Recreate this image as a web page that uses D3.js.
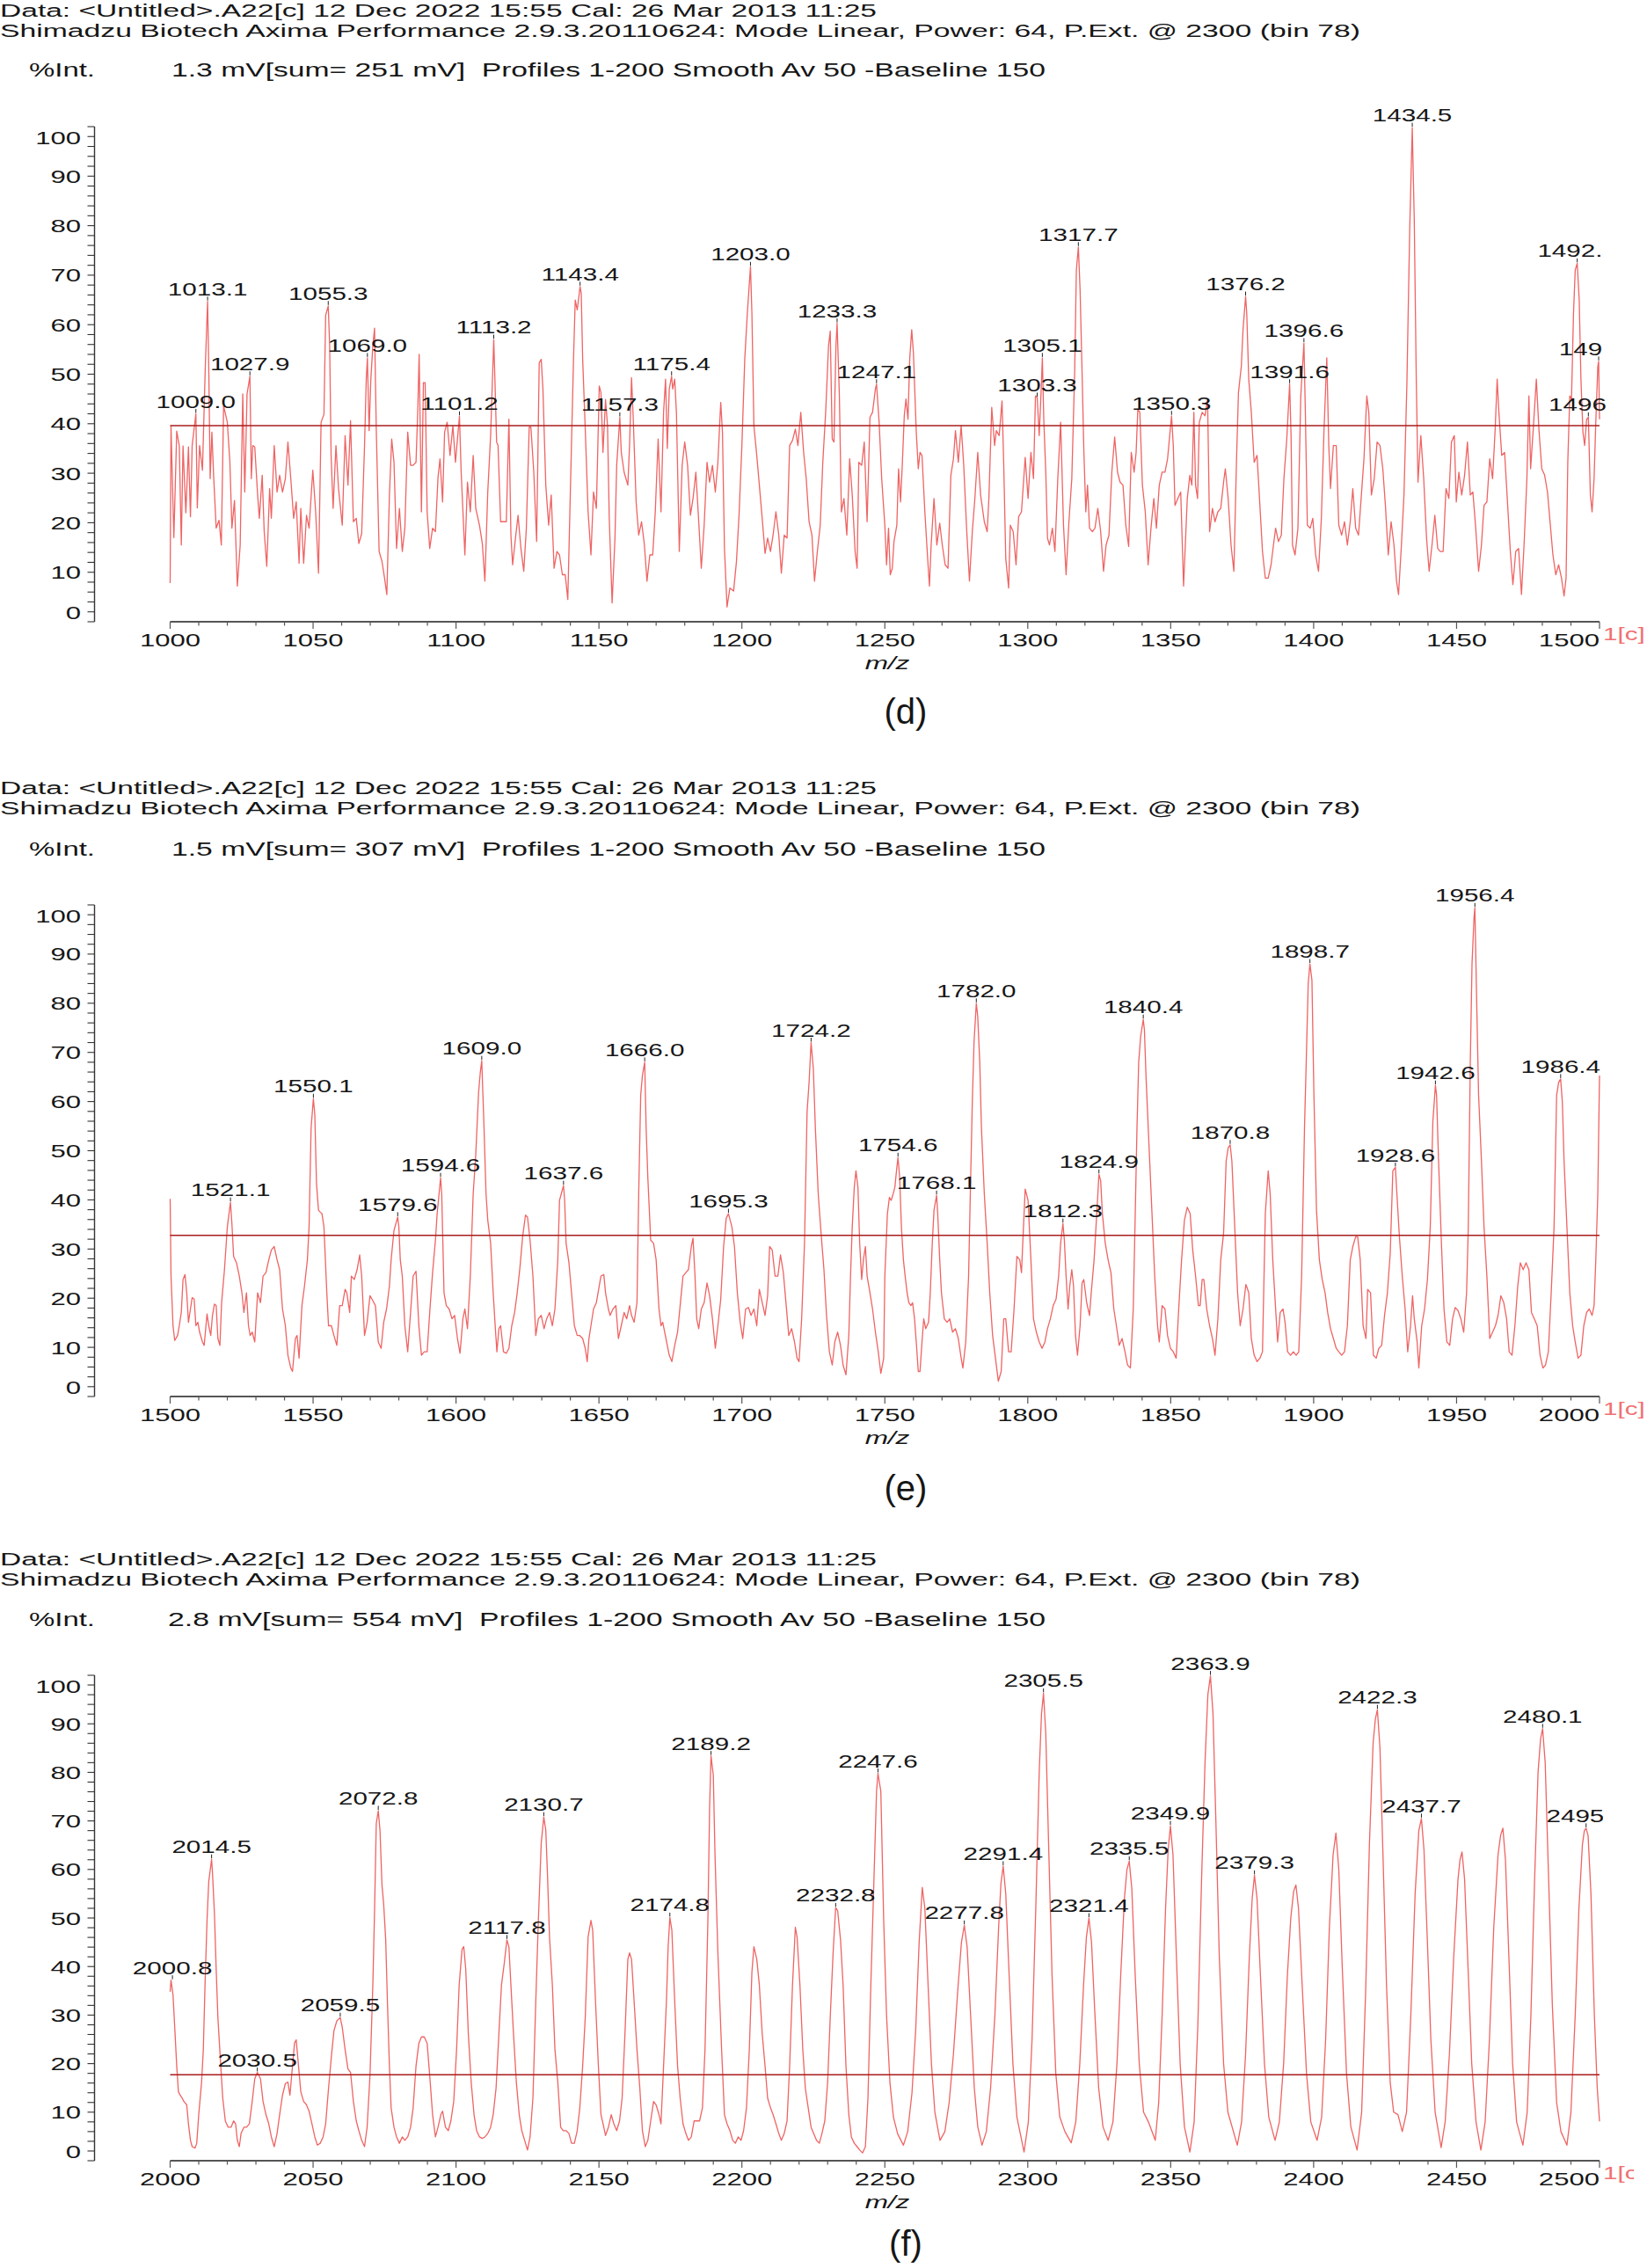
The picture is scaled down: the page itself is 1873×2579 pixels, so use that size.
<!DOCTYPE html>
<html>
<head>
<meta charset="utf-8">
<script src="https://d3js.org/d3.v7.min.js"></script>
<style>
  body { margin: 0; background: #fff; }
  svg { display: block; font-family: "Liberation Sans", Arial, sans-serif; }
</style>
</head>
<body>
<div id="chart"></div>
<script>
// header texts
const dataLine = "Data: <Untitled>.A22[c] 12 Dec 2022 15:55 Cal: 26 Mar 2013 11:25";
const instrumentLine = "Shimadzu Biotech Axima Performance 2.9.3.20110624: Mode Linear, Power: 64, P.Ext. @ 2300 (bin 78)";
const infoD = "1.3 mV[sum= 251 mV]  Profiles 1-200 Smooth Av 50 -Baseline 150";
const infoE = "1.5 mV[sum= 307 mV]  Profiles 1-200 Smooth Av 50 -Baseline 150";
const infoF = "2.8 mV[sum= 554 mV]  Profiles 1-200 Smooth Av 50 -Baseline 150";
const panelTags = ["(d)", "(e)", "(f)"];

// axes
const yTickLabels = [0, 10, 20, 30, 40, 50, 60, 70, 80, 90, 100];
const xTickLabelsD = [1000, 1050, 1100, 1150, 1200, 1250, 1300, 1350, 1400, 1450, 1500];
const xTickLabelsE = [1500, 1550, 1600, 1650, 1700, 1750, 1800, 1850, 1900, 1950, 2000];
const xTickLabelsF = [2000, 2050, 2100, 2150, 2200, 2250, 2300, 2350, 2400, 2450, 2500];

// threshold (red horizontal line) per panel, %Int
const thresholdD = 39.6, thresholdE = 32.8, thresholdF = 17.7;

// spectra: [m/z, %Int]
const spectrumD = [[1000.0,7.8],[1000.3,39.5],[1001.3,17],[1002.3,38.5],[1003.2,35.5],[1003.9,15.5],[1004.5,35.5],[1005.5,22],[1006.4,35.3],[1007.1,21.2],[1007.7,35.6],[1009.0,42],[1009.5,23],[1010.3,35.6],[1011.3,30.6],[1012.3,51.6],[1013.1,64.7],[1013.5,51.6],[1014.0,28.9],[1014.6,38.3],[1015.2,29.6],[1016.1,18.9],[1017.1,20.5],[1017.9,15.5],[1018.7,43.6],[1020.0,40.3],[1020.9,32.2],[1021.6,18.9],[1022.5,24.5],[1023.5,7.2],[1024.5,15.5],[1025.4,46],[1026.1,26.2],[1026.9,46],[1027.9,49.6],[1028.4,28.9],[1028.9,35.6],[1029.6,35.3],[1030.6,25.6],[1031.2,20.9],[1032.2,29.6],[1032.9,18.2],[1033.8,11.2],[1034.8,26.9],[1035.4,20.9],[1036.4,35.6],[1037.4,26.2],[1038.3,29.6],[1039.3,26.2],[1040.3,28.9],[1041.2,36.3],[1042.2,28.9],[1043.2,20.9],[1044.1,24.2],[1045.1,11.8],[1045.7,22.9],[1046.7,11.8],[1047.7,21.5],[1048.6,18.9],[1049.9,30.6],[1050.9,22.2],[1051.9,9.8],[1052.8,40.3],[1053.8,41.9],[1054.4,61.9],[1055.3,63.8],[1055.8,55.7],[1056.3,33.6],[1057.0,22.9],[1058.0,35.6],[1058.9,26.9],[1060.2,19.5],[1061.2,37.6],[1062.2,27.6],[1063.1,40.6],[1064.1,20.2],[1065.1,20.9],[1066.0,15.8],[1067.0,17.8],[1068.0,35.6],[1068.6,49],[1069.0,53.3],[1069.6,38.6],[1070.2,49],[1070.9,55.7],[1071.5,59.3],[1072.1,39],[1073.1,14.2],[1074.1,12.2],[1075.0,8.8],[1075.8,5.5],[1076.7,25.6],[1077.5,36.9],[1078.3,32.2],[1079.2,14.8],[1080.2,22.9],[1081.2,14.2],[1082.1,18.9],[1083.1,38.3],[1084.1,31.6],[1085.0,31.6],[1086.0,32.2],[1086.6,42.3],[1087.1,54],[1087.9,22.2],[1088.6,48.3],[1089.2,48.3],[1089.9,22.2],[1090.8,14.8],[1091.8,18.9],[1092.8,18.2],[1093.7,29.2],[1094.4,32.9],[1095.3,24.2],[1096.0,38.3],[1096.9,40.3],[1097.9,33.6],[1098.9,39.6],[1099.8,32.2],[1101.2,41.5],[1101.8,30.2],[1103.1,13.5],[1104.0,28.2],[1105.0,22.2],[1106.0,33.6],[1106.9,22.9],[1108.2,19.5],[1109.2,15.8],[1110.1,8.2],[1111.1,26.2],[1112.1,37.6],[1113.2,57],[1113.6,49],[1114.2,36.3],[1114.7,35.6],[1115.6,20.2],[1116.6,20.2],[1117.6,20.2],[1118.5,40.9],[1119.2,17.5],[1119.8,11.5],[1120.8,16.9],[1121.7,21.5],[1122.7,14.8],[1123.7,10.2],[1124.6,18.9],[1125.6,39.3],[1126.2,39.3],[1127.2,30.2],[1128.2,16.2],[1129.1,52.3],[1129.8,53],[1130.4,47],[1131.4,27.6],[1132.4,19.5],[1133.3,25.6],[1134.3,10.8],[1135.3,14.2],[1136.2,13.5],[1137.2,9.5],[1138.2,9.5],[1139.1,4.5],[1140.1,28.9],[1141.1,53],[1141.7,65],[1142.4,63],[1143.4,67.7],[1143.8,66.3],[1144.3,53],[1145.2,39],[1146.2,22.2],[1147.2,13.5],[1148.1,26.2],[1149.1,22.9],[1150.1,47.6],[1150.7,46.3],[1151.4,34.2],[1152.3,44.9],[1153.0,39.6],[1153.6,20.9],[1154.6,3.8],[1155.6,16.9],[1156.2,31.6],[1157.3,41.3],[1157.8,34.2],[1158.8,30.2],[1160.1,27.6],[1160.7,35.6],[1161.4,49.3],[1162.0,40.9],[1163.0,24.2],[1163.9,17.5],[1164.9,20.2],[1165.9,15.5],[1166.8,8.2],[1167.8,13.5],[1168.8,13.5],[1169.7,22.2],[1170.7,36.9],[1171.7,22.2],[1172.6,42.3],[1173.3,49],[1173.9,35],[1174.6,47],[1175.4,49.6],[1175.8,47],[1176.5,49],[1177.1,42.3],[1178.1,14.2],[1179.1,31.6],[1180.0,36.3],[1181.0,31.6],[1182.0,21.5],[1182.9,24.9],[1183.9,30.2],[1184.9,20.2],[1185.8,10.8],[1186.8,19.5],[1187.8,32.2],[1188.7,28.2],[1189.7,31.6],[1190.7,26.2],[1191.6,32.2],[1192.6,44.3],[1193.2,38.3],[1193.9,14.8],[1194.8,3],[1195.8,6.8],[1197.1,6.2],[1198.1,12.2],[1199.0,21.5],[1200.0,35.6],[1201.0,53],[1201.9,62.3],[1203.0,71.7],[1203.5,62.3],[1204.2,39.6],[1205.2,33.6],[1206.1,27.6],[1207.1,20.9],[1208.1,13.8],[1209.0,16.9],[1210.0,14.2],[1210.9,17.5],[1211.9,22.2],[1212.9,17.5],[1213.8,9.8],[1214.8,17.5],[1215.8,16.9],[1216.7,35.6],[1217.7,36.6],[1218.7,38.9],[1219.6,35.6],[1220.6,42.3],[1221.6,34.2],[1222.5,28.9],[1223.5,20.2],[1224.5,17.5],[1225.4,8.2],[1226.4,14.2],[1227.4,19.5],[1228.3,32.2],[1229.3,42.3],[1230.3,55.7],[1230.9,58.7],[1231.6,36.9],[1232.2,36.3],[1232.9,55.7],[1233.3,60.3],[1234.1,45.6],[1234.8,22.2],[1235.7,24.9],[1236.7,17.5],[1237.7,32.9],[1238.6,25.6],[1239.6,14.2],[1240.3,10.8],[1240.9,32.2],[1241.9,31.6],[1242.8,36.3],[1243.8,20.2],[1244.8,41.3],[1245.7,42.3],[1246.7,47],[1247.1,48],[1248.0,40.3],[1248.9,28.9],[1250.0,19.5],[1250.6,11.5],[1251.3,18.9],[1251.9,9.5],[1252.6,10.8],[1253.2,16.2],[1254.2,19.5],[1254.8,30.9],[1255.5,24.2],[1256.1,31.6],[1256.8,41.6],[1257.4,45],[1258.1,40.9],[1258.7,53],[1259.4,59],[1260.0,54.3],[1261.0,38.3],[1261.7,30.9],[1262.3,34.2],[1263.0,33.6],[1264.0,22.2],[1264.9,13.5],[1265.6,7.2],[1266.2,15.5],[1267.2,24.9],[1268.2,15.5],[1269.2,19.9],[1270.1,15.5],[1271.1,11.5],[1272.1,10.8],[1273.1,29.6],[1274.0,32.9],[1274.7,38.6],[1275.7,32.2],[1276.7,39.6],[1277.6,31.6],[1278.6,18.9],[1279.6,8.2],[1280.6,18.2],[1281.5,24.9],[1282.5,34.2],[1283.5,25.6],[1284.8,20.2],[1285.8,18.2],[1286.4,24.9],[1287.4,43.3],[1288.4,35.6],[1289.0,38.6],[1290.0,37.6],[1291.0,44.6],[1291.6,31.6],[1292.3,12.8],[1293.3,6.8],[1293.9,19.5],[1294.9,18.2],[1295.9,11.5],[1296.8,21.2],[1297.8,22.2],[1299.1,33.2],[1300.1,24.9],[1301.1,34.2],[1302.0,28.9],[1302.7,45.6],[1303.3,45.3],[1304.0,37.6],[1304.7,47],[1305.1,53.3],[1305.6,40.9],[1306.3,30.2],[1306.9,16.9],[1307.6,15.5],[1308.6,18.9],[1309.5,14.2],[1310.5,28.9],[1311.5,40.3],[1312.5,19.5],[1313.4,9.5],[1314.4,20.2],[1315.4,28.9],[1316.4,50.3],[1317.0,71],[1317.7,75.7],[1318.3,67],[1319.0,50.3],[1319.6,34.9],[1320.3,22.2],[1320.9,27.6],[1321.6,18.9],[1322.6,18.2],[1323.5,18.9],[1324.5,22.9],[1325.5,18.2],[1326.5,10.2],[1327.4,15.5],[1328.4,17.5],[1329.4,30.2],[1330.4,37.3],[1331.4,30.2],[1332.3,28.2],[1333.3,27.6],[1334.3,19.5],[1335.3,15.2],[1336.2,34.2],[1337.2,30.2],[1337.9,34.2],[1338.5,42.9],[1339.2,42.3],[1340.1,27.6],[1341.1,22.2],[1342.1,11.5],[1343.1,18.9],[1344.1,24.9],[1345.0,18.9],[1346.0,27.6],[1347.0,30.2],[1348.0,30.2],[1348.9,32.9],[1350.3,41.6],[1350.9,35.6],[1351.5,23.5],[1352.5,24.9],[1353.5,26.2],[1354.5,7.2],[1355.8,24.9],[1356.7,29.6],[1357.4,27.6],[1358.1,42.3],[1358.7,27.6],[1359.4,24.9],[1360.0,40.3],[1361.0,42.3],[1362.0,41.6],[1362.9,45],[1363.6,18.2],[1364.6,22.9],[1365.5,20.2],[1366.5,22.2],[1367.5,22.9],[1368.5,28.2],[1369.1,30.9],[1370.1,24.9],[1371.1,15.5],[1372.1,10.2],[1373.0,32.2],[1373.7,46.3],[1374.7,51.6],[1375.3,59],[1376.2,65.7],[1376.6,62.3],[1377.3,49],[1378.2,42.3],[1379.2,32.2],[1380.2,33.6],[1381.2,23.5],[1382.1,14.2],[1383.1,8.8],[1384.1,8.8],[1385.1,11.5],[1386.1,16.2],[1386.7,18.9],[1387.7,16.2],[1388.7,17.5],[1389.6,28.9],[1390.6,36.9],[1391.6,48],[1392.1,37.6],[1392.6,15.5],[1393.5,13.5],[1394.5,18.9],[1395.5,45.6],[1396.6,56.3],[1397.1,42.3],[1397.8,19.5],[1398.8,18.9],[1399.7,20.9],[1400.7,13.5],[1401.7,10.2],[1402.7,20.9],[1403.6,38.3],[1404.6,53.3],[1405.3,35.6],[1405.9,26.9],[1406.9,35.6],[1407.9,35.6],[1408.8,19.5],[1409.8,17.5],[1410.8,20.2],[1411.8,15.5],[1412.8,20.2],[1413.7,26.9],[1414.7,18.9],[1415.7,17.5],[1416.7,25.6],[1417.6,32.9],[1418.6,45.6],[1419.3,42.3],[1420.2,25.6],[1421.2,28.9],[1422.2,36.3],[1423.2,35.6],[1424.2,30.9],[1425.1,23.5],[1426.1,13.5],[1427.1,20.2],[1428.1,15.5],[1429.0,8.2],[1429.7,5.5],[1430.7,15.5],[1431.6,25.6],[1432.6,47.6],[1433.6,79.1],[1434.5,99.8],[1435.2,81.1],[1435.9,49],[1436.5,28.2],[1437.5,37.6],[1438.5,28.9],[1439.5,16.9],[1440.4,10.2],[1441.4,15.5],[1442.4,21.5],[1443.4,14.8],[1444.3,14.2],[1445.3,14.2],[1446.3,26.9],[1447.3,24.9],[1448.2,36.3],[1449.2,37.6],[1449.9,24.2],[1450.8,30.2],[1451.8,25.6],[1452.8,29.6],[1453.8,36.3],[1454.8,25.6],[1455.7,26.2],[1456.7,18.9],[1457.7,10.2],[1458.7,15.5],[1459.6,23.5],[1460.6,24.2],[1461.6,32.9],[1462.6,28.9],[1463.5,38.9],[1464.2,49],[1464.8,42.3],[1465.8,33.6],[1466.8,34.2],[1467.8,24.2],[1468.8,14.2],[1469.7,7.5],[1470.7,14.2],[1471.7,14.8],[1472.7,5.5],[1473.6,15.5],[1474.6,28.9],[1475.3,45.6],[1475.9,30.9],[1476.9,39.6],[1477.9,49],[1478.8,38.9],[1479.8,30.9],[1480.8,29.6],[1481.8,26.2],[1482.8,19.5],[1483.7,13.5],[1484.7,9.5],[1485.7,11.5],[1486.7,8.8],[1487.6,5.2],[1488.3,8.8],[1488.9,32.2],[1489.6,45.6],[1490.2,45],[1490.9,62.3],[1491.5,71],[1492.2,72.4],[1492.9,65],[1493.5,49],[1494.2,38.3],[1494.8,35.6],[1495.5,40.9],[1496.1,41.3],[1496.8,25.6],[1497.4,22.2],[1498.1,28.9],[1498.7,40.3],[1499.4,51.6],[1499.7,52.6],[1500.0,40.9]];

const spectrumE = [[1500.0,40.2],[1500.3,24.5],[1501.0,14.4],[1501.6,11.4],[1502.6,12.4],[1503.2,14.4],[1503.9,17.1],[1504.5,23.8],[1505.2,24.8],[1505.8,21.1],[1506.4,15.1],[1507.1,17.8],[1507.7,20.1],[1508.4,19.8],[1509.0,14.4],[1509.7,15.1],[1510.3,13.1],[1511.3,11.1],[1511.9,10.4],[1512.9,16.8],[1513.5,14.4],[1514.2,12.4],[1514.8,16.5],[1515.5,18.8],[1516.1,18.5],[1516.7,11.8],[1517.4,10.4],[1518.0,19.1],[1519.0,25.8],[1520.0,34.5],[1521.1,39.5],[1521.6,35.2],[1522.2,28.5],[1523.2,27.2],[1524.2,24.5],[1525.1,21.1],[1525.8,17.1],[1526.7,21.1],[1527.4,14.4],[1528.0,12.4],[1528.7,13.1],[1529.6,11.1],[1530.6,21.1],[1531.6,19.1],[1532.5,24.5],[1533.5,25.2],[1534.5,27.8],[1535.4,29.8],[1536.4,30.5],[1537.4,27.8],[1538.3,25.8],[1539.3,17.8],[1540.3,14.4],[1541.2,8.4],[1542.2,5.8],[1542.8,5.1],[1543.8,11.8],[1544.4,12.4],[1545.1,7.8],[1546.1,18.5],[1547.0,22.5],[1548.0,27.8],[1548.6,34.5],[1549.3,54.6],[1550.1,60.6],[1550.6,57.3],[1551.2,43.2],[1551.9,37.9],[1552.5,37.5],[1553.1,37.2],[1553.8,34.5],[1554.8,21.1],[1555.4,14.4],[1556.4,14.4],[1557.3,12.4],[1558.3,10.4],[1559.3,18.5],[1560.2,18.5],[1561.2,21.8],[1561.8,21.1],[1562.8,17.1],[1563.4,24.5],[1564.4,23.8],[1565.4,25.8],[1566.3,28.8],[1567.0,24.5],[1568.0,12.4],[1568.9,15.1],[1569.9,20.5],[1570.9,19.5],[1571.8,18.5],[1572.8,11.1],[1573.8,9.8],[1574.7,15.1],[1575.7,17.8],[1576.7,22.5],[1577.3,27.8],[1578.3,33.8],[1579.6,36.5],[1580.0,34.5],[1580.5,27.8],[1581.2,24.5],[1582.1,14.4],[1583.1,9.1],[1584.1,17.1],[1585.0,24.5],[1586.0,25.5],[1587.0,14.4],[1587.9,8.4],[1588.9,9.1],[1589.9,9.1],[1590.8,17.1],[1591.8,25.2],[1592.8,31.8],[1593.4,37.2],[1594.6,44.5],[1595.0,41.2],[1595.8,21.1],[1596.6,18.5],[1597.6,17.8],[1598.6,15.8],[1599.5,16.5],[1600.5,11.8],[1601.4,8.8],[1602.4,15.8],[1603.1,17.8],[1604.0,13.8],[1605.0,24.5],[1606.0,41.2],[1606.9,49.2],[1607.9,61.9],[1608.5,66],[1609.0,68.3],[1609.8,54.6],[1610.5,41.2],[1611.1,35.9],[1612.1,31.2],[1613.0,21.1],[1613.7,14.4],[1614.3,9.1],[1615.0,13.8],[1615.6,14.4],[1616.6,9.1],[1617.6,8.8],[1618.5,9.8],[1619.5,14.4],[1620.5,17.1],[1621.4,21.1],[1622.4,26.5],[1623.3,32.5],[1624.3,36.9],[1625.0,36.5],[1625.9,31.8],[1626.9,24.5],[1627.9,12.4],[1628.8,15.8],[1629.8,16.5],[1630.8,13.8],[1631.7,15.8],[1632.7,17.1],[1633.7,14.4],[1634.6,17.8],[1635.6,27.8],[1636.2,39.9],[1637.6,42.9],[1638.0,39.9],[1638.5,31.2],[1639.5,27.2],[1640.4,21.1],[1641.4,14.4],[1642.4,12.4],[1643.3,12.4],[1644.3,11.8],[1645.2,9.8],[1645.9,7.1],[1646.5,11.8],[1647.2,14.4],[1648.1,17.8],[1649.1,19.1],[1650.1,22.5],[1650.7,24.5],[1651.7,24.8],[1652.3,21.1],[1653.3,17.8],[1653.9,16.5],[1654.9,17.8],[1655.9,18.5],[1656.8,11.8],[1657.8,14.4],[1658.8,17.1],[1659.7,15.8],[1660.7,18.5],[1661.4,16.5],[1662.3,15.1],[1663.3,19.1],[1663.9,41.2],[1664.6,61.3],[1665.2,65.3],[1666.0,68],[1666.5,54.6],[1667.1,44.5],[1668.1,31.8],[1669.1,31.2],[1670.0,27.8],[1671.0,17.8],[1671.7,14.4],[1672.3,15.1],[1673.0,13.1],[1673.9,10.4],[1674.6,8.4],[1675.5,7.1],[1676.5,10.4],[1677.5,13.1],[1678.4,18.5],[1679.4,24.5],[1680.4,25.2],[1681.3,25.8],[1682.3,30.5],[1682.9,32.2],[1683.6,24.5],[1684.2,15.8],[1684.9,13.8],[1685.8,17.8],[1686.8,19.1],[1687.8,23.1],[1688.7,20.5],[1689.7,15.8],[1690.7,9.8],[1691.6,14.4],[1692.6,19.8],[1693.6,30.5],[1694.5,36.2],[1695.3,37.2],[1696.5,34.5],[1697.4,30.5],[1698.4,21.1],[1699.4,15.1],[1700.3,11.8],[1701.3,17.8],[1702.3,18.1],[1703.2,16.5],[1704.2,17.8],[1705.2,14.4],[1706.1,21.8],[1707.1,19.1],[1708.1,16.5],[1709.0,20.5],[1709.7,30.5],[1710.6,29.8],[1711.6,24.5],[1712.6,24.5],[1713.5,28.8],[1714.5,25.2],[1715.5,18.5],[1716.4,12.4],[1717.4,13.8],[1718.4,11.1],[1719.3,7.8],[1720.0,7.1],[1720.9,15.8],[1721.9,31.2],[1722.8,57.9],[1723.5,63.9],[1724.2,72],[1725.0,66.6],[1725.7,54.6],[1726.7,41.2],[1727.7,33.2],[1728.7,25.8],[1729.6,16.5],[1730.6,9.1],[1731.6,6.4],[1732.5,11.1],[1733.5,13.1],[1734.5,10.4],[1735.4,6.4],[1736.4,4.4],[1737.4,12.4],[1738.0,24.5],[1738.6,34.5],[1739.3,42.5],[1739.9,45.9],[1740.6,42.5],[1741.2,31.2],[1741.9,23.8],[1742.5,27.8],[1743.2,30.5],[1743.8,24.5],[1744.8,21.1],[1745.7,17.8],[1746.7,13.1],[1747.7,9.1],[1748.6,4.7],[1749.6,7.8],[1750.0,24.5],[1750.9,37.2],[1751.6,40.5],[1752.2,39.9],[1752.9,41.2],[1753.5,42.5],[1754.2,46.6],[1754.6,48.6],[1755.2,44.5],[1755.8,34.5],[1756.5,27.8],[1757.1,24.5],[1757.8,21.1],[1758.4,19.1],[1759.1,18.5],[1759.7,19.1],[1760.4,15.8],[1761.0,11.1],[1761.7,5.1],[1762.3,5.1],[1763.0,11.1],[1763.6,15.8],[1764.3,13.8],[1765.3,15.1],[1765.9,21.1],[1766.6,31.2],[1767.2,37.9],[1768.1,40.9],[1768.5,37.2],[1769.2,27.8],[1769.8,21.1],[1770.8,15.8],[1771.8,15.1],[1772.7,15.8],[1773.7,13.1],[1774.7,13.8],[1775.7,11.8],[1776.7,7.8],[1777.3,5.8],[1778.3,11.1],[1779.3,24.5],[1779.9,41.2],[1780.6,59.9],[1781.2,72],[1782.0,80],[1782.5,77.3],[1783.2,68],[1783.8,54.6],[1784.8,41.2],[1785.8,31.2],[1786.7,21.1],[1787.7,12.4],[1788.7,7.8],[1789.7,3.1],[1790.7,5.1],[1791.6,15.8],[1792.3,15.8],[1793.3,9.1],[1794.2,9.1],[1795.2,17.8],[1796.2,28.5],[1797.2,27.8],[1797.8,25.2],[1798.5,34.5],[1799.1,42.2],[1800.1,39.9],[1801.1,27.8],[1802.0,15.8],[1803.0,13.1],[1804.0,11.1],[1805.0,9.8],[1806.0,11.1],[1806.9,13.8],[1807.9,15.8],[1808.9,18.5],[1809.9,19.8],[1810.8,24.5],[1811.5,31.2],[1812.3,35.2],[1812.8,31.8],[1813.4,24.5],[1814.1,17.8],[1814.7,22.5],[1815.4,25.8],[1816.0,22.5],[1816.7,12.4],[1817.4,8.4],[1818.3,14.4],[1819.0,23.1],[1819.6,23.8],[1820.6,19.1],[1821.6,16.5],[1822.2,21.1],[1823.2,27.8],[1824.2,37.9],[1824.9,45.2],[1825.5,43.9],[1826.1,37.2],[1827.1,31.2],[1828.1,27.8],[1829.1,25.2],[1830.1,17.8],[1831.0,14.4],[1832.0,10.4],[1833.0,11.8],[1834.0,9.1],[1834.9,6.4],[1835.9,5.8],[1836.9,17.8],[1837.5,34.5],[1838.2,54.6],[1838.8,68],[1839.5,73.3],[1840.4,76.7],[1840.8,74.6],[1841.4,64.6],[1842.4,51.2],[1843.4,37.9],[1844.4,24.5],[1845.4,14.4],[1846.0,11.1],[1847.0,18.5],[1848.0,17.8],[1848.9,12.4],[1849.9,9.8],[1850.9,9.1],[1851.9,7.8],[1852.8,17.8],[1853.8,27.8],[1854.8,35.9],[1855.8,38.5],[1856.8,37.2],[1857.7,29.8],[1858.7,24.5],[1859.7,18.5],[1860.3,18.5],[1861.0,23.8],[1861.6,23.8],[1862.6,17.8],[1863.6,14.4],[1864.6,11.8],[1865.5,8.4],[1866.5,15.8],[1867.5,27.8],[1868.5,33.2],[1869.4,47.9],[1870.1,50.6],[1870.8,51.2],[1871.4,47.9],[1872.4,34.5],[1873.4,21.1],[1874.3,14.4],[1875.3,17.8],[1876.3,22.8],[1877.3,21.1],[1878.2,11.8],[1879.2,8.4],[1880.2,7.1],[1881.2,7.8],[1882.1,9.1],[1883.1,37.2],[1884.1,45.9],[1884.8,41.2],[1885.7,27.8],[1886.7,17.8],[1887.4,11.1],[1888.3,17.1],[1889.3,17.8],[1890.0,15.1],[1890.9,9.1],[1891.9,8.4],[1892.9,9.1],[1893.9,8.4],[1894.8,9.1],[1895.8,24.5],[1896.8,54.6],[1897.4,68],[1898.1,84],[1898.7,88],[1899.4,84.7],[1900.1,61.3],[1901.0,37.9],[1902.0,27.8],[1903.0,23.8],[1904.0,21.1],[1904.9,17.1],[1905.9,13.8],[1906.9,11.8],[1907.9,9.8],[1908.8,9.1],[1909.8,8.4],[1910.8,9.1],[1911.8,14.4],[1912.8,27.8],[1913.7,30.5],[1914.7,32.5],[1915.4,32.5],[1916.3,27.8],[1917.3,14.4],[1918.3,11.8],[1918.9,21.8],[1919.9,21.1],[1920.9,8.4],[1921.9,7.8],[1922.8,9.8],[1923.8,10.4],[1924.8,16.5],[1925.8,21.1],[1926.8,29.2],[1927.7,45.9],[1928.6,46.6],[1929.0,42.5],[1930.0,32.5],[1931.0,24.5],[1932.0,17.8],[1932.9,9.1],[1933.9,14.4],[1934.6,20.5],[1935.2,15.8],[1936.2,11.1],[1936.8,5.8],[1937.8,14.4],[1938.8,17.8],[1939.8,23.8],[1940.8,34.5],[1941.7,55.9],[1942.6,63.3],[1943.0,61.3],[1943.7,47.9],[1944.7,31.2],[1945.6,17.8],[1946.6,11.1],[1947.6,10.4],[1948.6,15.8],[1949.5,18.1],[1950.5,17.5],[1951.5,15.8],[1952.5,13.1],[1953.5,21.1],[1954.1,34.5],[1954.8,68],[1955.4,88],[1956.1,97.4],[1956.4,99.4],[1957.0,81.3],[1957.7,61.3],[1958.7,47.9],[1959.6,34.5],[1960.6,24.5],[1961.6,11.8],[1962.6,13.1],[1963.6,14.4],[1964.5,16.5],[1965.5,20.5],[1966.5,19.1],[1967.5,15.8],[1968.4,9.1],[1969.4,8.4],[1970.4,14.4],[1971.4,22.5],[1972.3,27.2],[1973.3,25.8],[1974.3,27.2],[1975.3,25.8],[1976.2,17.1],[1977.2,15.8],[1978.2,14.4],[1979.2,8.4],[1980.2,5.8],[1981.1,6.4],[1982.1,9.1],[1983.1,21.1],[1984.1,34.5],[1985.0,61.3],[1985.7,63.9],[1986.4,64.6],[1987.0,59.9],[1987.6,47.9],[1988.6,34.5],[1989.6,21.1],[1990.6,14.4],[1991.5,11.1],[1992.5,7.8],[1993.5,8.4],[1994.5,14.4],[1995.5,17.1],[1996.4,17.8],[1997.4,16.5],[1998.1,18.5],[1998.7,27.8],[1999.4,41.2],[2000.0,65.3]];

const spectrumF = [[2000.0,34.8],[2000.3,37.2],[2001.0,34.2],[2001.6,27.5],[2002.3,19.5],[2002.9,14.2],[2003.5,13.5],[2004.2,12.9],[2004.8,12.2],[2005.8,11.5],[2006.4,7.6],[2007.1,4.2],[2007.7,2.9],[2008.7,2.6],[2009.3,3.6],[2010.0,9.5],[2011.0,16.2],[2011.6,22.9],[2012.2,36.2],[2012.9,49.5],[2013.5,57.5],[2014.5,62.1],[2014.8,59.4],[2015.5,50.8],[2016.1,39.5],[2016.7,29.5],[2017.7,19.5],[2018.4,12.9],[2019.3,8.2],[2020.3,6.9],[2021.3,6.9],[2022.2,8.2],[2022.9,7.6],[2023.5,4.2],[2024.2,2.9],[2024.8,5.6],[2025.8,6.9],[2026.7,6.9],[2027.7,7.6],[2028.7,12.2],[2029.6,16.9],[2030.5,18.2],[2031.6,16.9],[2032.5,12.2],[2033.5,9.5],[2034.5,7.6],[2035.4,4.9],[2036.4,2.9],[2037.4,5.6],[2038.3,9.5],[2039.3,13.5],[2040.3,15.9],[2041.2,16.2],[2041.9,13.5],[2042.5,17.5],[2043.5,24.2],[2044.1,24.9],[2044.8,20.2],[2045.7,14.2],[2046.7,12.2],[2047.7,11.5],[2048.6,10.2],[2049.6,7.6],[2050.6,4.9],[2051.5,3.2],[2052.5,3.6],[2053.5,4.9],[2054.4,7.6],[2055.4,14.9],[2056.4,21.5],[2057.3,26.8],[2058.3,28.8],[2059.5,29.5],[2060.2,27.5],[2061.2,22.9],[2062.2,18.9],[2063.1,18.2],[2064.1,12.2],[2065.1,8.2],[2066.0,6.2],[2067.0,4.2],[2068.0,2.9],[2068.9,6.9],[2069.9,17.5],[2070.9,36.2],[2071.5,51.5],[2072.1,69.4],[2072.8,72.1],[2073.4,68.1],[2074.1,56.8],[2074.7,52.8],[2075.4,45.5],[2076.0,32.8],[2076.7,19.5],[2077.3,10.9],[2078.3,6.9],[2079.2,4.9],[2080.2,3.6],[2081.2,4.9],[2082.1,4.2],[2083.1,4.9],[2084.1,6.9],[2085.0,10.9],[2086.0,19.5],[2087.0,24.2],[2087.9,25.5],[2088.9,25.5],[2089.9,24.2],[2090.8,17.5],[2091.8,9.5],[2092.8,4.9],[2093.7,6.9],[2094.7,9.5],[2095.3,10.2],[2096.3,6.9],[2097.3,6.2],[2098.2,8.2],[2099.2,12.2],[2100.2,22.9],[2101.1,36.2],[2102.1,43.5],[2102.7,44.1],[2103.4,39.5],[2104.3,26.2],[2105.3,16.2],[2106.3,9.5],[2107.2,6.2],[2108.2,4.9],[2109.2,4.6],[2110.1,4.9],[2111.1,5.6],[2112.1,6.9],[2113.0,9.5],[2114.0,14.9],[2115.0,26.2],[2115.9,36.2],[2116.9,40.8],[2117.8,45.5],[2118.5,44.1],[2119.2,36.2],[2120.1,26.2],[2121.1,16.2],[2122.1,9.5],[2123.0,6.2],[2124.0,4.2],[2125.0,2.2],[2125.9,4.9],[2126.9,12.9],[2127.9,32.8],[2128.8,49.5],[2129.8,65.4],[2130.7,70.8],[2131.4,68.1],[2132.0,58.8],[2132.7,46.1],[2133.7,36.2],[2134.6,22.9],[2135.6,16.2],[2136.6,6.9],[2137.5,6.2],[2138.5,6.2],[2139.5,5.6],[2140.4,3.6],[2141.4,3.6],[2142.4,6.2],[2143.3,10.9],[2144.3,19.5],[2145.2,29.5],[2146.2,46.1],[2147.2,49.5],[2147.8,47.5],[2148.8,32.8],[2149.8,19.5],[2150.7,9.5],[2151.7,6.9],[2152.3,5.2],[2153.3,6.9],[2154.3,9.5],[2155.2,7.6],[2156.2,6.2],[2157.2,8.2],[2158.1,12.9],[2159.1,26.2],[2160.1,41.5],[2160.7,42.8],[2161.4,41.5],[2162.3,32.8],[2163.3,22.9],[2164.3,14.9],[2165.2,6.2],[2166.2,2.9],[2167.1,4.2],[2168.1,8.2],[2169.1,12.2],[2170.0,11.5],[2171.0,9.5],[2171.7,7.6],[2172.6,19.5],[2173.6,32.8],[2174.2,44.1],[2174.8,50.1],[2175.5,47.5],[2176.5,32.8],[2177.5,19.5],[2178.4,12.9],[2179.4,7.6],[2180.4,5.6],[2181.3,4.2],[2182.3,4.9],[2183.3,8.2],[2184.2,8.2],[2185.2,8.2],[2186.2,10.9],[2187.1,22.9],[2188.1,49.5],[2188.7,72.8],[2189.2,83.4],[2190.0,79.4],[2190.6,62.8],[2191.6,42.8],[2192.9,22.9],[2193.9,9.5],[2194.8,7.6],[2195.8,6.2],[2196.8,4.2],[2197.7,3.6],[2198.7,4.9],[2199.7,4.2],[2200.6,6.2],[2201.6,10.9],[2202.6,22.9],[2203.5,38.8],[2204.2,44.1],[2205.2,41.5],[2206.1,36.2],[2207.1,26.2],[2208.1,19.5],[2209.0,12.9],[2210.0,10.9],[2210.9,9.5],[2211.9,7.6],[2212.9,5.6],[2213.8,4.2],[2214.8,5.6],[2215.8,8.2],[2216.7,19.5],[2217.7,36.2],[2218.7,48.1],[2219.3,46.1],[2220.3,36.2],[2221.3,22.9],[2222.2,14.9],[2223.2,10.9],[2224.2,6.9],[2225.1,5.6],[2226.1,4.2],[2227.1,3.6],[2228.0,5.6],[2229.0,8.2],[2230.0,16.2],[2230.9,29.5],[2231.9,42.8],[2232.8,52.1],[2233.5,51.5],[2234.5,45.5],[2235.4,36.2],[2236.4,19.5],[2237.4,9.5],[2238.3,4.9],[2239.3,3.6],[2240.3,2.9],[2241.2,2.2],[2242.2,1.6],[2243.2,2.9],[2244.1,12.9],[2245.1,36.2],[2246.1,56.1],[2247.1,76.1],[2247.6,79.8],[2248.6,76.1],[2249.6,49.5],[2250.6,30],[2251.8,16],[2253.0,9],[2254.5,5.5],[2256.5,3.2],[2258.0,6],[2259.5,14],[2260.8,27],[2262.0,45],[2263.1,56.3],[2264.0,52],[2265.0,38],[2266.3,20],[2267.5,10],[2269.3,4.2],[2271.0,6],[2272.5,12],[2274.0,22],[2275.5,35],[2276.8,45],[2277.8,48.5],[2278.8,44],[2280.0,30],[2281.3,15],[2282.5,7],[2284.0,3.2],[2285.5,6],[2287.0,15],[2288.5,30],[2289.8,48],[2290.6,57],[2291.4,60.7],[2292.3,55],[2293.5,38],[2294.8,20],[2296.2,9],[2298.7,1.8],[2300.2,8],[2301.5,25],[2302.8,52],[2304.0,80],[2304.8,92],[2305.5,96.3],[2306.3,88],[2307.3,65],[2308.5,38],[2309.8,18],[2311.2,9],[2313.0,6],[2315.2,3.7],[2316.8,8],[2318.2,20],[2319.5,36],[2320.5,46],[2321.4,50],[2322.3,45],[2323.5,30],[2324.8,15],[2326.3,7],[2328.1,4.2],[2329.8,8],[2331.2,20],[2332.5,38],[2333.8,54],[2334.7,60],[2335.5,61.7],[2336.4,56],[2337.6,38],[2339.0,20],[2340.5,10],[2342.2,8],[2344.6,4.2],[2345.8,12],[2347.0,30],[2348.2,52],[2349.1,64],[2349.9,69],[2350.8,63],[2352.0,42],[2353.3,20],[2354.8,7],[2356.7,1.8],[2358.2,8],[2359.5,28],[2360.8,58],[2362.0,82],[2363.0,96],[2363.9,99.9],[2364.8,92],[2365.8,70],[2367.0,42],[2368.5,20],[2370.0,10],[2373.3,3.2],[2374.8,8],[2376.2,22],[2377.5,42],[2378.5,54],[2379.3,58.8],[2380.2,54],[2381.4,38],[2382.8,20],[2384.3,9],[2386.5,4.2],[2388.0,8],[2389.5,20],[2390.8,38],[2392.0,50],[2393.0,55.5],[2393.8,56.8],[2394.7,52],[2396.0,36],[2397.5,18],[2399.0,8],[2401.2,4.2],[2402.8,9],[2404.2,25],[2405.5,48],[2406.8,63],[2407.8,67.5],[2408.8,60],[2410.0,40],[2411.5,18],[2413.0,7],[2415.2,2.2],[2416.8,10],[2418.2,35],[2419.5,65],[2420.8,86],[2421.6,91],[2422.3,92.9],[2423.2,85],[2424.3,62],[2425.5,36],[2426.8,16],[2428.0,10],[2429.5,9.5],[2431.0,6],[2432.5,10],[2434.0,30],[2435.5,55],[2436.8,68],[2437.7,70.5],[2438.6,64],[2439.8,45],[2441.0,25],[2442.5,10],[2444.6,2.7],[2446.0,8],[2447.5,22],[2449.0,42],[2450.5,58],[2451.2,62],[2451.9,63.6],[2452.8,58],[2454.0,40],[2455.3,20],[2456.8,8],[2458.5,2.2],[2460.0,8],[2461.5,25],[2463.0,48],[2464.5,63],[2465.4,67],[2466.2,68.5],[2467.1,62],[2468.3,42],[2469.6,20],[2471.0,8],[2473.2,3.2],[2474.7,10],[2476.0,30],[2477.3,58],[2478.5,80],[2479.4,87],[2480.1,89],[2481.0,82],[2482.2,58],[2483.5,32],[2485.0,12],[2486.5,6],[2488.6,3.2],[2490.0,10],[2491.5,30],[2492.8,52],[2494.0,65],[2494.7,68],[2495.3,68.5],[2496.0,67],[2497.0,55],[2498.2,30],[2499.2,15],[2500.0,8.1]];

// peak annotations: [text, m/z, %Int]
const labelsD = [["1009.0",1009.0,42],["1013.1",1013.1,64.7],["1027.9",1027.9,49.6],["1055.3",1055.3,63.8],["1069.0",1069.0,53.3],["1101.2",1101.2,41.5],["1113.2",1113.2,57],["1143.4",1143.4,67.7],["1157.3",1157.3,41.3],["1175.4",1175.4,49.6],["1203.0",1203.0,71.7],["1233.3",1233.3,60.3],["1247.1",1247.1,48],["1303.3",1303.3,45.3],["1305.1",1305.1,53.3],["1317.7",1317.7,75.7],["1350.3",1350.3,41.6],["1376.2",1376.2,65.7],["1391.6",1391.6,48],["1396.6",1396.6,56.3],["1434.5",1434.5,99.8],["1492.2",1492.2,72.4],["1499.7",1499.7,52.6],["1496.1",1496.1,41.3]];
const labelsE = [["1521.1",1521.1,39.5],["1550.1",1550.1,60.6],["1579.6",1579.6,36.5],["1594.6",1594.6,44.5],["1609.0",1609.0,68.3],["1637.6",1637.6,42.9],["1666.0",1666.0,68],["1695.3",1695.3,37.2],["1724.2",1724.2,72],["1754.6",1754.6,48.6],["1768.1",1768.1,40.9],["1782.0",1782.0,80],["1812.3",1812.3,35.2],["1824.9",1824.9,45.2],["1840.4",1840.4,76.7],["1870.8",1870.8,51.2],["1898.7",1898.7,88],["1928.6",1928.6,46.6],["1942.6",1942.6,63.3],["1956.4",1956.4,99.4],["1986.4",1986.4,64.6]];
const labelsF = [["2000.8",2000.8,37.2],["2014.5",2014.5,62.1],["2030.5",2030.5,18.2],["2059.5",2059.5,29.5],["2072.8",2072.8,72.1],["2117.8",2117.8,45.5],["2130.7",2130.7,70.8],["2174.8",2174.8,50.1],["2189.2",2189.2,83.4],["2232.8",2232.8,52.1],["2247.6",2247.6,79.8],["2277.8",2277.8,48.5],["2291.4",2291.4,60.7],["2305.5",2305.5,96.3],["2321.4",2321.4,50],["2335.5",2335.5,61.7],["2349.9",2349.9,69],["2363.9",2363.9,99.9],["2379.3",2379.3,58.8],["2422.3",2422.3,92.9],["2437.7",2437.7,70.5],["2480.1",2480.1,89],["2495.3",2495.3,68.5]];

// page layout (pixels)
const W = 1873, H = 2579;
const axisX = 107.5, plotL = 193.5, plotR = 1819;
const SX = 1.48; // the instrument font is drawn wide
const lineColor = "#ef6464", thrColor = "#a81c1c", inkColor = "#161616";

const panels = [
  {spec: spectrumD, labels: labelsD, ticks: xTickLabelsD, thr: thresholdD, info: infoD, tag: panelTags[0],
   head: [19, 42, 87], top: 144, bottom: 707, tagY: 823, infoX: 195, infoW: 994},
  {spec: spectrumE, labels: labelsE, ticks: xTickLabelsE, thr: thresholdE, info: infoE, tag: panelTags[1],
   head: [903, 926, 973], top: 1029, bottom: 1588, tagY: 1706, infoX: 195, infoW: 994},
  {spec: spectrumF, labels: labelsF, ticks: xTickLabelsF, thr: thresholdF, info: infoF, tag: panelTags[2],
   head: [1780, 1803, 1849], top: 1905, bottom: 2457, tagY: 2565, infoX: 191, infoW: 998,
   cut: 1858, labelCut: 1823}
];

const svg = d3.select("#chart").append("svg")
  .attr("width", W).attr("height", H);
svg.append("rect").attr("width", W).attr("height", H).attr("fill", "#fff");

function wideText(g, x, y, str, size, anchor) {
  return g.append("text")
    .attr("transform", `translate(${x},${y}) scale(${SX},1)`)
    .attr("text-anchor", anchor || "start")
    .attr("font-size", size)
    .attr("fill", inkColor)
    .style("white-space", "pre")
    .text(str);
}

function clipTo(id, xMax, yTop) {
  svg.append("clipPath").attr("id", id).append("rect")
    .attr("x", 0).attr("y", yTop).attr("width", xMax).attr("height", 1000);
  return `url(#${id})`;
}

panels.forEach((p, i) => {
  const g = svg.append("g");
  const x = d3.scaleLinear().domain([p.ticks[0], p.ticks[p.ticks.length - 1]]).range([plotL, plotR]);
  const y = d3.scaleLinear().domain([0, 100]).range([p.bottom, p.top]);

  // header lines
  const hdr = (tx, xx, yy, len, fs) => g.append("text")
    .attr("x", xx).attr("y", yy).attr("font-size", fs).attr("fill", inkColor)
    .attr("textLength", len).attr("lengthAdjust", "spacingAndGlyphs")
    .style("white-space", "pre").text(tx);
  hdr(dataLine, 0, p.head[0], 997, 20);
  hdr(instrumentLine, 0, p.head[1], 1547, 20);
  hdr("%Int.", 33, p.head[2], 75, 22);
  hdr(p.info, p.infoX, p.head[2], p.infoW, 22);

  // y axis
  g.append("line").attr("x1", axisX).attr("x2", axisX).attr("y1", y(100)).attr("y2", y(0))
    .attr("stroke", "#333").attr("stroke-width", 1.4);
  g.selectAll(null).data(y.ticks(50)).join("line")
    .attr("x1", axisX - 8).attr("x2", axisX)
    .attr("y1", d => y(d)).attr("y2", d => y(d))
    .attr("stroke", "#333").attr("stroke-width", 1.1);
  yTickLabels.forEach(v => {
    const cy = Math.min(Math.max(y(v), p.top + 12), p.bottom - 11);
    wideText(g, 92, cy + 7.5, String(v), 21, "end");
  });

  // x axis
  g.append("line").attr("x1", plotL).attr("x2", plotR).attr("y1", p.bottom).attr("y2", p.bottom)
    .attr("stroke", "#555").attr("stroke-width", 2);
  g.selectAll(null).data(x.ticks(50)).join("line")
    .attr("x1", d => x(d)).attr("x2", d => x(d))
    .attr("y1", p.bottom).attr("y2", d => p.bottom + (d % 50 === 0 ? 8 : 4.5))
    .attr("stroke", "#555").attr("stroke-width", 1.2);
  p.ticks.forEach(v => {
    const t = wideText(g, 0, p.bottom + 28, String(v), 21, "start");
    const w = t.node().getComputedTextLength() * SX;
    const cx = Math.min(x(v), plotR - w / 2);
    t.attr("transform", `translate(${cx - w / 2},${p.bottom + 28}) scale(${SX},1)`);
  });

  // "1[c]" trace tag at the right end of the axis
  const tagG = g.append("g");
  if (p.cut) tagG.attr("clip-path", clipTo("cut" + i, p.cut, p.top - 200));
  wideText(tagG, 1823, p.bottom + 21, "1[c]", 20, "start").attr("fill", "#f07070");

  // axis title and panel tag
  g.append("text").attr("transform", `translate(1009,${p.bottom + 54}) scale(1.5,1)`)
    .attr("text-anchor", "middle").attr("font-size", 21).attr("font-style", "italic")
    .attr("fill", inkColor).text("m/z");
  g.append("text").attr("x", 1030).attr("y", p.tagY).attr("text-anchor", "middle")
    .attr("font-size", 40).attr("fill", inkColor).text(p.tag);

  // spectrum
  g.append("path").datum(p.spec)
    .attr("d", d3.line().x(d => x(d[0])).y(d => y(d[1])))
    .attr("fill", "none").attr("stroke", lineColor).attr("stroke-width", 1.3)
    .attr("stroke-linejoin", "round");

  // threshold line
  g.append("line").attr("x1", plotL).attr("x2", plotR).attr("y1", y(p.thr)).attr("y2", y(p.thr))
    .attr("stroke", thrColor).attr("stroke-width", 1.5);

  // peak labels (characters that do not fit before the right margin are dropped)
  const labG = g.append("g");
  if (p.labelCut) labG.attr("clip-path", clipTo("lab" + i, p.labelCut, p.top - 200));
  const limit = 1834;
  p.labels.forEach(([txt, mz, v]) => {
    const px = x(mz), py = y(v);
    labG.append("line").attr("x1", px).attr("x2", px).attr("y1", py - 1).attr("y2", py - 5.5)
      .attr("stroke", "#222").attr("stroke-width", 1);
    const t = wideText(labG, 0, py - 7, txt, 20, "start");
    const w = t.node().getComputedTextLength() * SX;
    const sx0 = px - w / 2;
    t.attr("transform", `translate(${sx0},${py - 7}) scale(${SX},1)`);
    let s = txt;
    while (s.length > 1 && sx0 + t.node().getComputedTextLength() * SX > limit) {
      s = s.slice(0, -1);
      t.text(s);
    }
  });
});
</script>
</body>
</html>
